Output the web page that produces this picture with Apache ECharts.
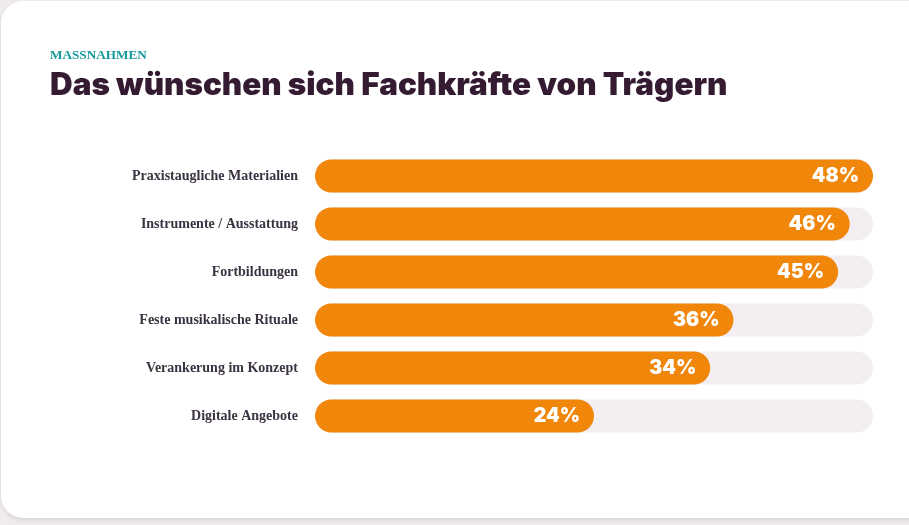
<!DOCTYPE html>
<html>
<head>
<meta charset="utf-8">
<script src="https://cdn.jsdelivr.net/npm/echarts@6/dist/echarts.min.js"></script>
<style>
html,body{margin:0;padding:0;background:#efebee;overflow:hidden;}
.card{position:absolute;left:1px;top:1px;width:960px;height:517px;background:#fff;border-radius:22px;box-shadow:0 2px 4px rgba(60,40,60,0.12);}
#chart{position:absolute;left:0;top:0;width:909px;height:525px;}
</style>
</head>
<body>
<div class="card"></div>
<div id="chart"></div>
<script>
var kicker = 'MASSNAHMEN';
var headline = 'Das wünschen sich Fachkräfte von Trägern';
var categories = ['Praxistaugliche Materialien','Instrumente / Ausstattung','Fortbildungen','Feste musikalische Rituale','Verankerung im Konzept','Digitale Angebote'];
var values = [48,46,45,36,34,24];

var myChart = echarts.init(document.getElementById('chart'));
var option = {
  animation:false,
  title:[{
    text:kicker,
    left:45, top:44,
    textStyle:{fontFamily:'Liberation Serif',fontWeight:'bold',fontSize:13.2,color:'#17999a'}
  },{
    text:headline,
    left:45, top:65,
    textStyle:{fontFamily:'Inter',fontWeight:900,fontSize:31.4,color:'#341b32'}
  }],
  grid:{left:315,right:36,top:152,bottom:85},
  xAxis:{type:'value',min:0,max:48,show:false},
  yAxis:{
    type:'category',
    inverse:true,
    data:categories,
    axisLine:{show:false},
    axisTick:{show:false},
    axisLabel:{
      margin:17,
      fontFamily:'Liberation Serif',
      fontWeight:'bold',
      fontSize:14,
      color:'#3b3340'
    }
  },
  series:[{
    type:'bar',
    data:values,
    barWidth:33,
    showBackground:true,
    backgroundStyle:{color:'#f3eef2',borderRadius:16.5},
    itemStyle:{color:'#f0860a',borderRadius:16.5},
    label:{
      show:true,
      position:'insideRight',
      distance:14,
      formatter:'{c}%',
      fontFamily:'Inter',
      fontWeight:900,
      fontSize:19.5,
      color:'#ffffff'
    }
  }]
};
myChart.setOption(option);
window.addEventListener('resize',()=>{
  myChart.resize();
})
</script>
</body>
</html>
